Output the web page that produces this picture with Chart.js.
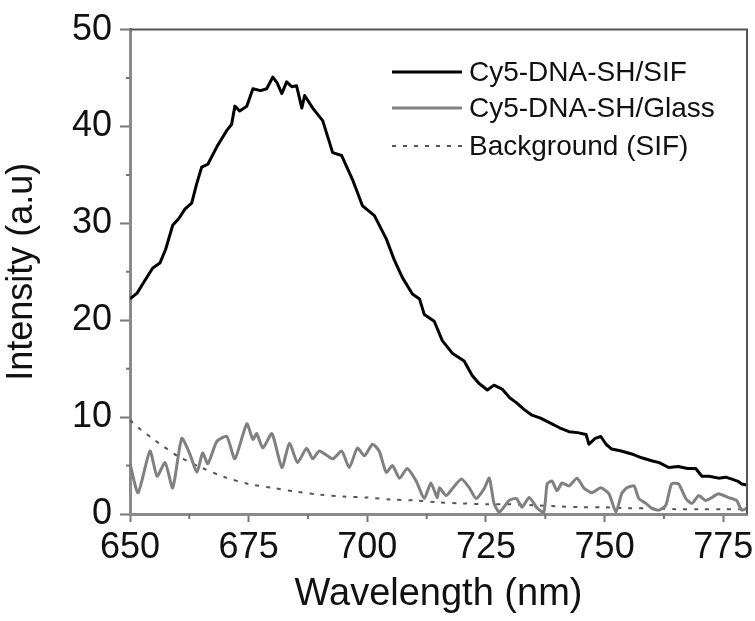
<!DOCTYPE html>
<html>
<head>
<meta charset="utf-8">
<script src="https://cdn.jsdelivr.net/npm/chart.js@4.4.0/dist/chart.umd.min.js"></script>
<style>
  html, body { margin: 0; padding: 0; background: #fff; }
  #wrap { width: 755px; height: 621px; position: relative; }
</style>
</head>
<body>
<div id="wrap"><canvas id="myChart" width="755" height="621"></canvas></div>
<script>
// spectra (wavelength in nm, intensity in a.u.)
const sifX = [650, 651.5, 653, 654.8, 656.3, 657.5, 659, 660.3, 661.6, 663, 664, 665.1, 666.4, 668.3, 670.4, 671.4, 672.1, 673.1, 674.6, 675.9,
  677.5, 678.8, 680.1, 681, 682, 683, 684.1, 685.1, 686.2, 686.8, 688.5, 690.6, 692.7, 694.6, 696.9, 699, 701.5, 704, 705.7, 707.4,
  709.5, 711, 712, 714.1, 715.8, 717.9, 720.4, 722.1, 723.5, 725.3, 726.7, 728.4, 730, 731.4, 733, 734.7, 736.5, 738.9, 740.5, 742.5,
  744.3, 746.1, 746.7, 748, 749.2, 750.3, 751.5, 753.5, 755.7, 757.8, 759.9, 761.5, 763.5, 765.5, 767.5, 769.2, 770.5, 772, 774, 775.5,
  776.8, 778, 778.9, 780];
const sifY = [22.2, 22.8, 24.0, 25.4, 25.9, 27.3, 29.8, 30.5, 31.5, 32.1, 34.0, 35.8, 36.1, 37.9, 39.6, 40.2, 42.1, 41.6, 42.1, 43.9,
  43.7, 43.9, 45.1, 44.5, 43.4, 44.6, 44.1, 44.2, 41.9, 43.2, 41.9, 40.6, 37.3, 37.0, 34.5, 31.8, 30.8, 28.4, 26.2, 24.4,
  22.7, 22.2, 20.6, 19.9, 17.9, 16.6, 15.8, 14.3, 13.5, 12.8, 13.3, 12.9, 12.0, 11.5, 10.8, 10.2, 9.9, 9.3, 8.9, 8.5,
  8.4, 8.2, 7.2, 7.8, 8.0, 7.2, 6.7, 6.5, 6.2, 5.8, 5.5, 5.3, 4.8, 4.9, 4.7, 4.7, 3.9, 3.9, 3.7, 3.8,
  3.6, 3.4, 3.1, 3.0];

const glassX = [650, 651.7, 654.2, 655.7, 657.4, 659, 660.9, 662.6, 664.1, 665.3, 666.4, 668.3, 670.4, 672.1, 674.6, 675.9, 676.7, 678, 679.9, 682,
  683.6, 685.3, 687.2, 688.5, 689.9, 692.7, 694.6, 696.2, 697.9, 699.4, 701.1, 702.5, 704, 705.3, 706.8, 708.4, 710.3, 712, 713.4, 714.7,
  715.2, 716.6, 717.9, 719.8, 721.5, 722.9, 724.6, 725.7, 726.7, 727.8, 729.9, 731.4, 732.6, 734.1, 735.8, 737.2, 737.9, 738.9, 740, 741,
  742.5, 744.2, 745.6, 747.3, 749.2, 750.9, 752.4, 753.6, 754.7, 756.2, 757.2, 758.7, 759.9, 761.4, 762.9, 764.1, 765.6, 767.1, 768.4, 769.8,
  771.3, 772.6, 774, 776.1, 777.8, 778.9, 780];
const glassY = [5.2, 2.2, 6.5, 3.9, 5.3, 2.7, 7.8, 6.2, 4.3, 6.3, 5.2, 7.5, 8.0, 5.7, 9.3, 7.7, 8.3, 6.8, 8.3, 4.8,
  7.3, 5.3, 6.8, 5.7, 6.5, 5.7, 6.5, 4.8, 6.8, 6.0, 7.2, 6.5, 4.3, 5.0, 3.7, 4.7, 3.4, 1.6, 3.2, 1.7,
  2.7, 1.9, 2.6, 3.6, 2.7, 1.6, 2.6, 3.7, 1.1, 0.2, 1.4, 1.6, 0.7, 1.7, 0.6, 0.2, 3.1, 3.4, 2.4, 3.2,
  2.9, 3.7, 2.7, 2.2, 2.7, 2.1, 0.2, 2.1, 2.7, 2.9, 1.6, 1.1, 0.6, 0.4, 0.9, 3.1, 3.1, 1.6, 1.1, 1.9,
  1.4, 1.7, 2.1, 1.7, 1.4, 0.4, 0.6];

const bgX = [650, 652, 655, 657, 660, 665, 670, 675, 680, 685, 690, 695, 700, 705, 710, 715, 720, 725, 730, 735, 740, 745, 750, 755, 760, 765, 770, 775, 780];
const bgY = [9.7, 8.8, 7.7, 7.0, 6.0, 4.8, 3.8, 3.1, 2.7, 2.3, 2.0, 1.8, 1.7, 1.5, 1.4, 1.2, 1.1, 1.0, 1.0, 0.9, 0.8, 0.7, 0.7, 0.6, 0.6, 0.5, 0.5, 0.5, 0.5];

const seriesNames = ['Cy5-DNA-SH/SIF', 'Cy5-DNA-SH/Glass', 'Background (SIF)'];
const xTicks = [650, 675, 700, 725, 750, 775];
const yTicks = [0, 10, 20, 30, 40, 50];

const FONT = "'Liberation Sans', Arial, sans-serif";

function pts(xs, ys) {
  return xs.map((x, i) => ({ x: x, y: ys[i] }));
}

// box round the plot, minor ticks, legend inside the plot
const extras = {
  id: 'extras',
  afterDraw(chart) {
    const ctx = chart.ctx;
    const a = chart.chartArea;
    const xs = chart.scales.x, ys = chart.scales.y;
    ctx.save();
    ctx.strokeStyle = '#555';
    ctx.lineWidth = 2;
    ctx.beginPath();
    ctx.moveTo(a.left, a.top);
    ctx.lineTo(a.right, a.top);
    ctx.lineTo(a.right, a.bottom);
    ctx.stroke();

    // minor ticks
    ctx.strokeStyle = '#777';
    ctx.lineWidth = 2;
    ctx.beginPath();
    for (let v = 662.5; v < 780; v += 25) {
      const px = xs.getPixelForValue(v);
      ctx.moveTo(px, a.bottom);
      ctx.lineTo(px, a.bottom + 5);
    }
    for (let v = 5; v < 50; v += 10) {
      const py = ys.getPixelForValue(v);
      ctx.moveTo(a.left, py);
      ctx.lineTo(a.left - 4, py);
    }
    ctx.stroke();

    // legend
    const ds = chart.data.datasets;
    const rows = [72, 108, 146];
    ctx.font = '28px ' + FONT;
    ctx.textBaseline = 'middle';
    ctx.fillStyle = '#111';
    ds.forEach((d, i) => {
      ctx.strokeStyle = d.borderColor;
      ctx.lineWidth = d.borderWidth;
      ctx.setLineDash(d.borderDash || []);
      ctx.beginPath();
      ctx.moveTo(392, rows[i]);
      ctx.lineTo(462, rows[i]);
      ctx.stroke();
      ctx.setLineDash([]);
      ctx.fillText(d.label, 469, rows[i] + 1);
    });
    ctx.restore();
  }
};

const ctx = document.getElementById('myChart').getContext('2d');
const chart = new Chart(ctx, {
  type: 'line',
  data: {
    datasets: [
      { label: seriesNames[0], data: pts(sifX, sifY), borderColor: '#000', borderWidth: 3, pointRadius: 0, tension: 0, borderJoinStyle: 'round' },
      { label: seriesNames[1], data: pts(glassX, glassY), borderColor: '#808080', borderWidth: 3, pointRadius: 0, tension: 0.2, borderJoinStyle: 'round' },
      { label: seriesNames[2], data: pts(bgX, bgY), borderColor: '#555', borderWidth: 2, borderDash: [4, 7], pointRadius: 0, tension: 0.3 }
    ]
  },
  options: {
    responsive: false,
    animation: false,
    layout: { padding: { top: 20, right: 8, left: 0, bottom: 0 } },
    plugins: { legend: { display: false }, tooltip: { enabled: false } },
    scales: {
      x: {
        type: 'linear',
        min: 650,
        max: 780,
        afterBuildTicks: (s) => { s.ticks = xTicks.map(v => ({ value: v })); },
        afterFit: (s) => { s.height = 107; s.paddingLeft = 0; s.paddingRight = 0; },
        ticks: { font: { family: FONT, size: 36 }, color: '#111', padding: 4, maxRotation: 0, autoSkip: false },
        grid: { drawOnChartArea: false, tickLength: 8, tickColor: '#777', tickWidth: 2 },
        border: { color: '#8a8a8a', width: 3 },
        title: { display: true, text: 'Wavelength (nm)', font: { family: FONT, size: 38 }, color: '#111', padding: { top: 0, bottom: 4 } }
      },
      y: {
        min: 0,
        max: 50,
        afterBuildTicks: (s) => { s.ticks = yTicks.map(v => ({ value: v })); },
        afterFit: (s) => { s.width = 130; },
        ticks: { font: { family: FONT, size: 36 }, color: '#111', padding: 8 },
        grid: { drawOnChartArea: false, tickLength: 10, tickColor: '#777', tickWidth: 2 },
        border: { color: '#8a8a8a', width: 3 },
        title: { display: true, text: 'Intensity (a.u)', font: { family: FONT, size: 36 }, color: '#111', padding: { top: 0, bottom: 0 } }
      }
    }
  },
  plugins: [extras]
});
</script>
</body>
</html>
